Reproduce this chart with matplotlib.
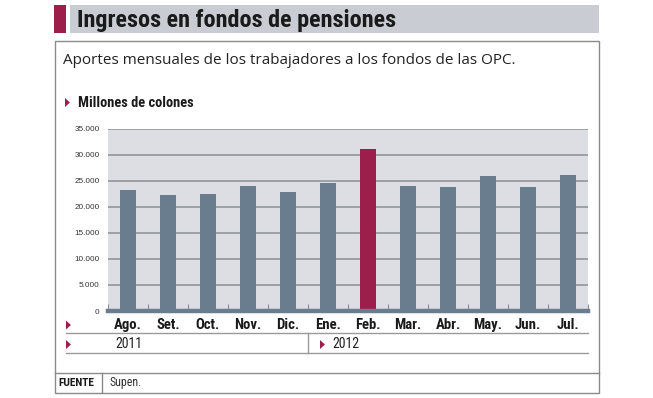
import matplotlib
matplotlib.use("Agg")
import numpy as np
from matplotlib import pyplot as plt
from matplotlib.patches import Rectangle, Polygon

months = ["Ago.", "Set.", "Oct.", "Nov.", "Dic.", "Ene.", "Feb.", "Mar.", "Abr.", "May.", "Jun.", "Jul."]
aportes = [23250, 22300, 22500, 23900, 22800, 24600, 31100, 23900, 23700, 25900, 23700, 26000]
highlight = "Feb."
years = ["2011", "2012"]
yticks = [0, 5000, 10000, 15000, 20000, 25000, 30000, 35000]

W, H = 653, 398
CRIMSON = "#9c1f4b"
SLATE = "#6a7d8f"
BAND = "#c9ccd2"
PLOTBG = "#dcdee3"
GRID = "#8b9097"
LINE = "#9a9a9a"
COND = ["Roboto Condensed", "DejaVu Sans"]
SANS = ["Open Sans", "DejaVu Sans"]

fig = plt.figure(figsize=(W / 100, H / 100), dpi=100)
fig.patch.set_facecolor("white")

# background axes in pixel coordinates (y down)
bg = fig.add_axes([0, 0, 1, 1])
bg.set_xlim(0, W)
bg.set_ylim(H, 0)
bg.axis("off")


def tri(x, y, s=4.5):
    bg.add_patch(Polygon([[x, y - s], [x, y + s], [x + s * 1.1, y]], closed=True,
                         color=CRIMSON, lw=0))


# title band
bg.add_patch(Rectangle((54, 5), 12, 28, color=CRIMSON, lw=0))
bg.add_patch(Rectangle((70, 5), 529, 28, color=BAND, lw=0))
bg.text(77, 20, "Ingresos en fondos de pensiones", family=COND, weight="bold",
        fontsize=17.4, color="#1a1a1a", va="center", ha="left")

# outer box
bg.add_patch(Rectangle((54.5, 40.5), 544, 352, fill=False, ec="#8a8a8a", lw=1))
bg.plot([54.5, 598.5], [372.5, 372.5], color="#8a8a8a", lw=1)
bg.plot([102, 102], [372.5, 392], color="#8a8a8a", lw=1)
bg.text(58, 382.5, "FUENTE", family=COND, weight="bold", fontsize=8.2,
        color="#1a1a1a", va="center")
bg.text(109, 382.5, "Supen.", family=COND, fontsize=8.6, color="#333333", va="center")

bg.text(63, 61, "Aportes mensuales de los trabajadores a los fondos de las OPC.",
        family=SANS, fontsize=11.0, color="#222222", va="center")

tri(65, 102.5)
bg.text(78, 103, "Millones de colones", family=COND, weight="bold", fontsize=10.4,
        color="#1a1a1a", va="center")

# month / year rows
tri(66, 325)
tri(66, 344.5)
tri(320, 344.5)
bg.plot([66, 588], [333, 333], color=LINE, lw=1)
bg.plot([66, 588], [353, 353], color=LINE, lw=1)
bg.plot([308, 308], [333, 353], color=LINE, lw=1)
bg.text(115, 344, years[0], family=COND, fontsize=10, color="#222222", va="center")
bg.text(332, 344, years[1], family=COND, fontsize=10, color="#222222", va="center")

# bar chart
L, R, T, B = 108, 588, 128.5, 311
ax = fig.add_axes([L / W, 1 - B / H, (R - L) / W, (B - T) / H])
x = np.arange(len(months))
colors = [CRIMSON if m == highlight else SLATE for m in months]
ax.bar(x, aportes, width=0.4, color=colors, zorder=3)
ax.set_xlim(-0.5, len(months) - 0.5)
ax.set_ylim(0, 35000)
ax.set_facecolor(PLOTBG)
for s in ["left", "right", "top"]:
    ax.spines[s].set_visible(False)
ax.spines["bottom"].set_color(SLATE)
ax.spines["bottom"].set_linewidth(3.2)
ax.spines["bottom"].set_zorder(4)
ax.set_yticks(yticks)
ax.set_yticklabels([f"{v:,}".replace(",", ".") for v in yticks], fontsize=5.9,
                   color="#333333", family=["Liberation Sans", "DejaVu Sans"])
ax.tick_params(axis="y", length=0, pad=6)
ax.grid(axis="y", color=GRID, lw=1.1, zorder=1)
ax.set_axisbelow(True)
# boundary ticks along the base
ax.set_xticks(np.arange(len(months) + 1) - 0.5)
ax.set_xticklabels([])
ax.tick_params(axis="x", direction="in", length=5, color=GRID, width=0.8)
for i, m in enumerate(months):
    ax.text(i, -0.077, m, transform=ax.get_xaxis_transform(), ha="center", va="center",
            family=COND, weight="bold", fontsize=10.6, color="#1a1a1a")

fig.savefig("out.png", dpi=100, facecolor="white")
